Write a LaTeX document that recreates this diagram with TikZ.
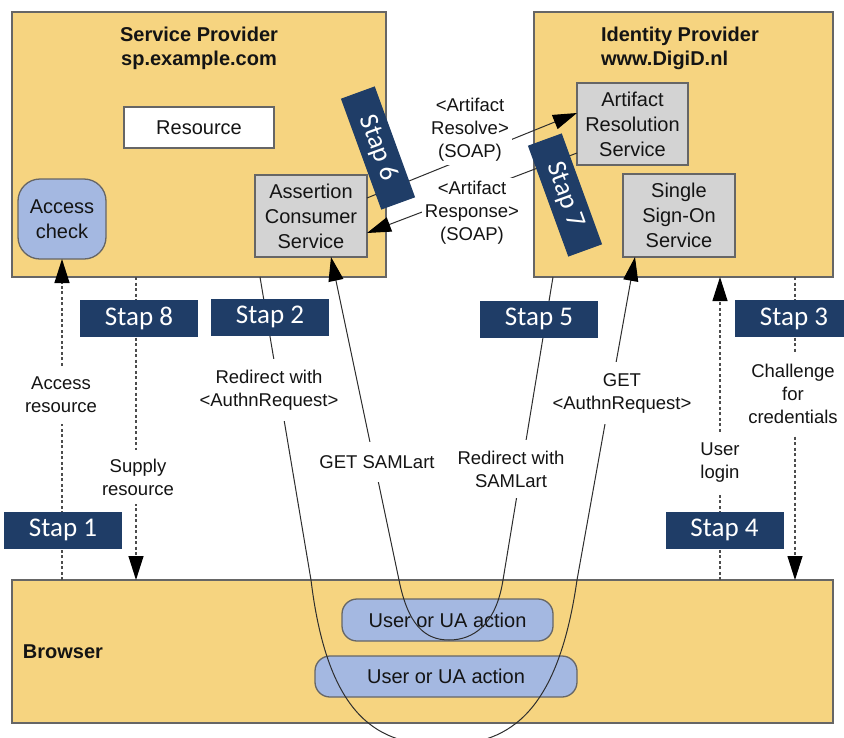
\documentclass[tikz,border=0pt]{standalone}
\usepackage{fontspec}
\setmainfont{Liberation Sans}
\newfontfamily\stapfont{Carlito}
\usetikzlibrary{arrows.meta,calc}

\definecolor{panel}{HTML}{F6D480}
\definecolor{stapblue}{HTML}{1F3D67}
\definecolor{svcgrey}{HTML}{D3D3D3}
\definecolor{uablue}{HTML}{A4B8E1}
\definecolor{edge}{HTML}{666666}
\definecolor{ink}{HTML}{141414}
\definecolor{wire}{HTML}{2E2E2E}

\begin{document}
\begin{tikzpicture}[x=1pt,y=-1pt,
  every node/.style={inner sep=0pt, outer sep=0pt, text=ink},
  panelbox/.style={draw=edge, line width=1.4pt, fill=panel},
  titletext/.style={font=\bfseries\fontsize{20}{24}\selectfont},
  boxtext/.style={align=center, font=\fontsize{20}{25}\selectfont},
  svcbox/.style={boxtext, draw=edge, line width=1.3pt, fill=svcgrey},
  whitebox/.style={boxtext, draw=edge, line width=1.3pt, fill=white},
  accbox/.style={boxtext, draw=edge, line width=1.3pt, fill=uablue, rounded corners=22pt},
  uabox/.style={boxtext, draw=edge, line width=1.3pt, fill=uablue, rounded corners=15pt},
  tip/.style={-{Triangle[length=24pt,width=15pt,color=black,fill=black]}},
  flow/.style={draw=wire, line width=1pt, tip},
  dotline/.style={draw=wire!85, line width=1.2pt, dash pattern=on 3pt off 2.5pt, tip},
  msg/.style={fill=white, align=center, font=\fontsize{18.5}{23}\selectfont, inner xsep=3pt, inner ysep=11pt},
  soapmsg/.style={msg, inner ysep=3pt},
  stapbox/.style={fill=stapblue, text=white, minimum width=118pt, minimum height=37pt,
    font=\stapfont\fontsize{27}{30}\selectfont}
]
\clip (0,0) rectangle (844,737);
\fill[white] (0,0) rectangle (844,737);

% the three parties
\node[panelbox, minimum width=374pt, minimum height=265pt] (sp) at (199,144.5) {};
\node[panelbox, minimum width=299pt, minimum height=265pt] (idp) at (683.5,144.5) {};
\node[panelbox, minimum width=821pt, minimum height=143pt] (br) at (422.5,651.5) {};

\node[titletext, align=center] (sptitle) at (199,48) {Service Provider\\sp.example.com};
\node[titletext, align=left, anchor=west] (idptitle) at (601,48) {Identity Provider\\www.DigiD.nl};
\node[titletext, anchor=west] (brtitle) at (23,652) {Browser};

% services inside the parties
\node[whitebox, minimum width=150pt, minimum height=41pt] (res) at (199,127.5) {Resource};
\node[accbox, minimum width=88pt, minimum height=80pt] (ac) at (62,219) {Access\\check};
\node[svcbox, minimum width=112pt, minimum height=82pt] (acs) at (311,216) {Assertion\\Consumer\\Service};
\node[svcbox, minimum width=111pt, minimum height=82pt] (ars) at (632.5,124) {Artifact\\Resolution\\Service};
\node[svcbox, minimum width=112pt, minimum height=83pt] (sso) at (679,215.5) {Single\\Sign-On\\Service};
\node[uabox, minimum width=211pt, minimum height=42pt] (ua1) at (447.5,620) {User or UA action};
\node[uabox, minimum width=262pt, minimum height=41pt] (ua2) at (446,676.5) {User or UA action};

% turning points of the two redirect loops
\coordinate (wideL) at (311,580);
\coordinate (wideR) at (577,580);
\coordinate (wideB) at (442,745);
\coordinate (narL) at (399,580);
\coordinate (narR) at (503,580);
\coordinate (narB) at (449,640);

% redirect to the IdP and GET of the AuthnRequest
\draw[flow] ($(sp.south west)+(248,0)$) -- (wideL)
  .. controls (328,720) and (380,745) .. (wideB)
  .. controls (504,745) and (557,720) .. (wideR)
  -- ($(sso.south west)+(12,0)$);
% redirect back with the artifact and GET to the ACS
\draw[flow] ($(idp.south west)+(19,0)$) -- (narR)
  .. controls (496,625) and (473,640) .. (narB)
  .. controls (425,640) and (408,625) .. (narL)
  -- ($(acs.south west)+(76,0)$);

% back-channel SOAP exchange
\draw[flow] ($(acs.north east)+(0,23)$) -- ($(ars.north west)+(0,30)$);
\draw[flow] ($(ars.north west)+(0,70)$) -- ($(acs.north east)+(0,58)$);

% front-channel user interactions
\draw[dotline] (br.north -| ac.south) -- (ac.south);
\draw[dotline] ($(sp.south west)+(124,0)$) -- ($(br.north west)+(124,0)$);
\draw[dotline] ($(br.north west)+(708,0)$) -- ($(idp.south west)+(186,0)$);
\draw[dotline] ($(idp.south west)+(261,0)$) -- ($(br.north west)+(783,0)$);

% message labels
\node[msg] (lacc) at (61,395) {Access\\resource};
\node[msg, inner ysep=9pt] (lsup) at (138,477) {Supply\\resource};
\node[msg] (lredir1) at (269,390) {Redirect with\\<AuthnRequest>};
\node[msg, inner ysep=13pt] (lgetart) at (377,462) {GET SAMLart};
\node[msg] (lredir2) at (511,469) {Redirect with\\SAMLart};
\node[msg] (lgetreq) at (622,393) {GET\\<AuthnRequest>};
\node[msg] (llogin) at (720,463) {User\\login};
\node[msg, inner ysep=12pt] (lchal) at (793,394) {Challenge\\for\\credentials};
\node[soapmsg] (lresolve) at (470,130) {<Artifact\\Resolve>\\(SOAP)};
\node[soapmsg] (lresponse) at (472,213) {<Artifact\\Response>\\(SOAP)};

% step markers
\node[stapbox] (s1) at (63,530) {Stap 1};
\node[stapbox] (s2) at (270,317) {Stap 2};
\node[stapbox] (s3) at (794,318.5) {Stap 3};
\node[stapbox] (s4) at (724.5,530) {Stap 4};
\node[stapbox] (s5) at (539,319) {Stap 5};
\node[stapbox, minimum height=36pt, rotate=-70] (s6) at (378,148) {Stap 6};
\node[stapbox, minimum height=36pt, rotate=-70] (s7) at (565,195) {Stap 7};
\node[stapbox] (s8) at (139,318.5) {Stap 8};
\end{tikzpicture}
\end{document}
